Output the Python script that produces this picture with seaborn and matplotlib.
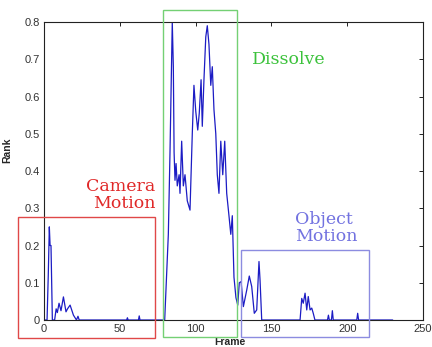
import matplotlib
matplotlib.use("Agg")
import matplotlib.pyplot as plt
import seaborn as sns
import pandas as pd
from matplotlib.patches import Rectangle

# rank curve (frame, rank)
frames = [0, 2, 2.8, 3.5, 4, 4.6, 5.5, 7, 8, 8.8, 9.9, 11.2, 12.8, 14.5, 15.5, 17.2, 19.4, 21.4, 22.4, 23.2,
          54.5, 55, 55.5, 62.3, 62.8, 63.3, 79.6,
          82, 83.1, 84.6, 85.3, 85.8, 86.4, 87.1, 87.9, 89.1, 89.7, 90.8, 91.9, 93, 94.5, 96.3, 97.8, 98.9,
          100.1, 101.4, 102.4, 103.6, 104.4, 105.5, 106.7, 107.7, 108.8, 110, 111, 112.1, 113.3, 114.3,
          115.4, 116.6, 117.9, 119.2, 120.5, 122, 123.2, 124.2, 125.3, 126.6, 127.8, 128.8, 130, 131.5,
          133.7, 135.4, 137, 138.7, 140.3, 141.8, 142.5, 143.6,
          168.9, 170, 171, 172.2, 173.3, 174.3, 175.5, 176.6, 177.6, 178.7,
          187, 187.6, 188.2, 189.6, 190.2, 190.8, 206.3, 206.9, 207.5, 230]
rank = [0, 0, 0.12, 0.25, 0.2, 0.2, 0, 0, 0.03, 0.02, 0.045, 0.025, 0.062, 0.022, 0.03, 0.04, 0.013, 0, 0.01, 0,
        0, 0.006, 0, 0, 0.011, 0, 0,
        0.23, 0.45, 0.8, 0.68, 0.45, 0.375, 0.42, 0.36, 0.39, 0.34, 0.48, 0.36, 0.39, 0.32, 0.295, 0.5, 0.63,
        0.56, 0.51, 0.555, 0.645, 0.52, 0.645, 0.76, 0.79, 0.74, 0.63, 0.68, 0.565, 0.5, 0.39,
        0.34, 0.48, 0.39, 0.48, 0.34, 0.28, 0.23, 0.28, 0.115, 0.06, 0.04, 0.1, 0.103, 0.036,
        0.08, 0.118, 0.09, 0.018, 0.027, 0.157, 0.107, 0,
        0, 0.058, 0.045, 0.072, 0.027, 0.063, 0.027, 0.032, 0.018, 0,
        0, 0.013, 0, 0, 0.025, 0, 0, 0.018, 0, 0]

x_ticks = [0, 50, 100, 150, 200, 250]
y_ticks = [0, 0.1, 0.2, 0.3, 0.4, 0.5, 0.6, 0.7, 0.8]

# annotation boxes: (x0, x1, y0, y1)
box_camera = (-17.2, 73.2, -0.048, 0.2765)
box_dissolve = (78.5, 127.3, -0.046, 0.832)
box_object = (130.0, 214.4, -0.046, 0.188)

df = pd.DataFrame({"Frame": frames, "Rank": rank})

sns.set_style("white")
plt.rcParams["font.family"] = ["Liberation Sans", "DejaVu Sans"]

fig = plt.figure(figsize=(4.32, 3.47), dpi=100)
ax = fig.add_axes([0.1019, 0.0778, 0.8773, 0.8588])

sns.lineplot(data=df, x="Frame", y="Rank", sort=False, estimator=None,
             color="#1c1cc4", linewidth=0.9, ax=ax)

ax.set_xlim(0, 250)
ax.set_ylim(0, 0.8)
ax.set_xticks(x_ticks)
ax.set_yticks(y_ticks)
ax.set_xticklabels([str(t) for t in x_ticks])
ax.set_yticklabels(["0"] + [f"{t:.1f}" for t in y_ticks[1:]])
ax.tick_params(direction="in", length=3, width=0.7, top=True, right=True,
               labelsize=8, labelcolor="#333333", color="#222222", pad=3)
for s in ax.spines.values():
    s.set_color("#222222")
    s.set_linewidth(0.8)

ax.set_xlabel("Frame", fontsize=7.5, fontweight="bold")
ax.set_ylabel("Rank", fontsize=7.5, fontweight="bold")
ax.xaxis.set_label_coords(0.49, -0.056)
ax.yaxis.set_label_coords(-0.084, 0.57)

for (x0, x1, y0, y1), col in [(box_camera, "#e04848"), (box_dissolve, "#74d074"), (box_object, "#8c8ce0")]:
    ax.add_patch(Rectangle((x0, y0), x1 - x0, y1 - y0, fill=False, edgecolor=col,
                           linewidth=1.0, clip_on=False, zorder=5))

ax.text(73.3, 0.336, "Camera\nMotion", color="#e02828", family="DejaVu Serif", fontsize=12.5,
        ha="right", va="center", multialignment="right", linespacing=1.0)
ax.text(161.6, 0.698, "Dissolve", color="#3cc23c", family="DejaVu Serif", fontsize=12.5,
        ha="center", va="center")
ax.text(165.5, 0.247, "Object\nMotion", color="#7272e0", family="DejaVu Serif", fontsize=12.5,
        ha="left", va="center", multialignment="left", linespacing=1.0)

fig.savefig("out.png", dpi=100)
